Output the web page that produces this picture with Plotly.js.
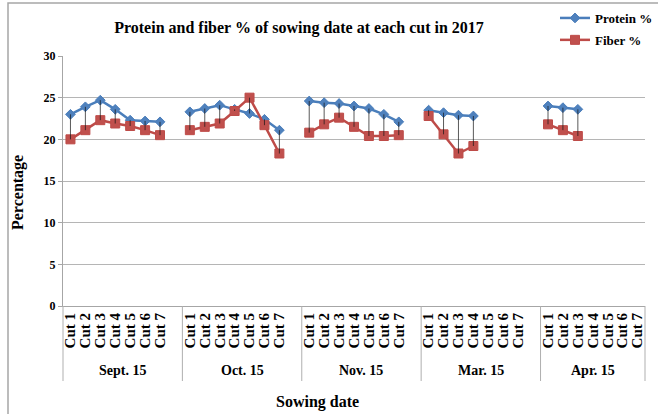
<!DOCTYPE html>
<html>
<head>
<meta charset="utf-8">
<script src="https://cdn.plot.ly/plotly-3.0.1.min.js"></script>
<style>html,body{margin:0;padding:0;background:#fff;}#chart{width:658px;height:414px;}</style>
</head>
<body>
<div id="chart"></div>
<script>
const groups = ["Sept. 15", "Oct. 15", "Nov. 15", "Mar. 15", "Apr. 15"];
const cuts = ["Cut 1", "Cut 2", "Cut 3", "Cut 4", "Cut 5", "Cut 6", "Cut 7"];

const proteinSept = [23.0, 23.9, 24.7, 23.6, 22.3, 22.2, 22.1];
const proteinOct  = [23.3, 23.7, 24.1, 23.6, 23.1, 22.4, 21.1];
const proteinNov  = [24.6, 24.4, 24.3, 24.0, 23.7, 23.0, 22.1];
const proteinMar  = [23.5, 23.2, 22.9, 22.8, null, null, null];
const proteinApr  = [24.0, 23.8, 23.6, null, null, null, null];

const fiberSept = [20.0, 21.1, 22.3, 21.9, 21.6, 21.1, 20.5];
const fiberOct  = [21.1, 21.5, 21.9, 23.4, 25.0, 21.7, 18.3];
const fiberNov  = [20.8, 21.8, 22.6, 21.5, 20.4, 20.4, 20.5];
const fiberMar  = [22.8, 20.6, 18.3, 19.2, null, null, null];
const fiberApr  = [21.8, 21.1, 20.4, null, null, null, null];

const yTicks = [0, 5, 10, 15, 20, 25, 30];

const proteinByGroup = [proteinSept, proteinOct, proteinNov, proteinMar, proteinApr];
const fiberByGroup = [fiberSept, fiberOct, fiberNov, fiberMar, fiberApr];

// each group occupies cuts.length + 1 slots (one empty slot between groups)
const slot = cuts.length + 1;
const lastX = (groups.length - 1) * slot + cuts.length - 1;

const xs = [], pY = [], fY = [], tickvals = [], ticktext = [];
const dropX = [], dropY = [];
groups.forEach((g, gi) => {
  cuts.forEach((c, ci) => {
    const x = gi * slot + ci;
    xs.push(x);
    const p = proteinByGroup[gi][ci], f = fiberByGroup[gi][ci];
    pY.push(p); fY.push(f);
    tickvals.push(x); ticktext.push("<b>" + c + "</b>");
    if (p != null && f != null) { dropX.push(x, x, null); dropY.push(p, f, null); }
  });
  if (gi < groups.length - 1) { xs.push(gi * slot + cuts.length); pY.push(null); fY.push(null); }
});

const xmin = -0.5, xmax = lastX + 0.5;
const span = xmax - xmin;
const toPaper = v => (v - xmin) / span;

const serif = "Liberation Serif";
const blue = "#4A7EBB", red = "#BE4B48";

const traces = [
  { x: xs, y: pY, name: "<b>Protein %</b>", mode: "lines+markers", connectgaps: false,
    legendgroup: "p",
    line: { color: blue, width: 2.5 },
    marker: { symbol: "diamond", size: 7.5, color: "#4F81BD", line: { color: blue, width: 1 } } },
  { x: xs, y: fY, name: "<b>Fiber %</b>", mode: "lines+markers", connectgaps: false,
    legendgroup: "f",
    line: { color: red, width: 2.5 },
    marker: { symbol: "square", size: 9, color: "#C0504D", line: { color: red, width: 1 } } },
  { x: dropX, y: dropY, mode: "lines", line: { color: "rgba(20,20,20,0.7)", width: 1 },
    showlegend: false, hoverinfo: "skip" }
];

const shapes = [];
const boundaries = [xmin];
groups.forEach((g, gi) => boundaries.push(Math.min(gi * slot + cuts.length + 0.5, xmax)));
boundaries.forEach(b => shapes.push({
  type: "line", xref: "paper", yref: "paper", x0: toPaper(b), x1: toPaper(b), y0: 0, y1: -0.3,
  line: { color: "#AFAFAF", width: 1 }
}));
shapes.push({ type: "rect", xref: "paper", yref: "paper", x0: -0.0945, x1: 1.06, y0: -0.45, y1: 1.212,
  line: { color: "#A6A6A6", width: 1.5 }, fillcolor: "rgba(0,0,0,0)" });

const annotations = groups.map((g, gi) => {
  const a = boundaries[gi], b = boundaries[gi + 1];
  return { text: "<b>" + g + "</b>", xref: "x", yref: "paper", x: (a + b) / 2, y: -0.258, showarrow: false,
    xanchor: "center", yanchor: "middle",
    font: { family: serif, size: 14, color: "#000" } };
});
annotations.push({ text: "<b>Sowing date</b>", xref: "paper", yref: "paper", x: (317 - 63) / 582, y: -(402 - 306) / 250,
  showarrow: false, xanchor: "center", yanchor: "middle",
  font: { family: serif, size: 16, color: "#000" } });
annotations.push({ text: "<b>Percentage</b>", xref: "paper", yref: "paper", x: (18 - 63) / 582, y: (306 - 193) / 250,
  showarrow: false, xanchor: "center", yanchor: "middle", textangle: -90,
  font: { family: serif, size: 16, color: "#000" } });

const layout = {
  width: 658, height: 414,
  margin: { l: 63, r: 13, t: 56, b: 108, autoexpand: false },
  paper_bgcolor: "#fff", plot_bgcolor: "#fff",
  title: { text: "<b>Protein and fiber % of sowing date at each cut in 2017</b>",
    font: { family: serif, size: 16, color: "#000" },
    x: 299 / 658, xanchor: "center", y: 1 - 27 / 414, yanchor: "middle" },
  xaxis: {
    type: "linear", range: [xmin, xmax], tickmode: "array", tickvals: tickvals, ticktext: ticktext,
    tickangle: -90, ticks: "", showgrid: false, zeroline: false,
    showline: true, linecolor: "#A6A6A6", linewidth: 1,
    tickfont: { family: serif, size: 15, color: "#000" }
  },
  yaxis: {
    range: [0, 30], tickmode: "array", tickvals: yTicks, ticktext: yTicks.map(v => "<b>" + v + "</b>"),
    showgrid: true, gridcolor: "#B5B5B5", gridwidth: 1, zeroline: false,
    showline: true, linecolor: "#A6A6A6", linewidth: 1,
    ticks: "outside", ticklen: 4, tickcolor: "#A6A6A6",
    tickfont: { family: serif, size: 12, color: "#000" }
  },
  showlegend: true,
  legend: { xref: "container", yref: "container", x: 555 / 658, xanchor: "left", y: 1 - 3 / 414, yanchor: "top",
    traceorder: "grouped", tracegroupgap: 2, bgcolor: "rgba(0,0,0,0)",
    font: { family: serif, size: 13, color: "#000" } },
  shapes: shapes,
  annotations: annotations
};

Plotly.newPlot("chart", traces, layout, { displayModeBar: false, staticPlot: true });
</script>
</body>
</html>
